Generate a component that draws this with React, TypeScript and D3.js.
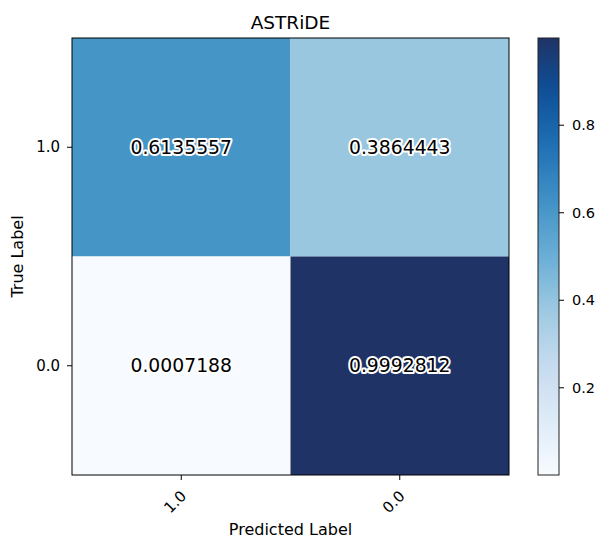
import React from "react";
import * as d3 from "d3";

const title = "ASTRiDE";
const predictedLabels = ["1.0", "0.0"];
const trueLabels = ["1.0", "0.0"];
// rows: true label, cols: predicted label
const row10 = [0.6135557, 0.3864443];
const row00 = [0.0007188, 0.9992812];
const matrixRows = [row10, row00];
const cbTicks = [0.2, 0.4, 0.6, 0.8];
const bluesStops = ["#f7fbff", "#deebf7", "#c6dbef", "#9ecae1", "#6baed6", "#4292c6", "#2171b5", "#0e509a", "#1f3367"];

const W = 599, H = 541;
const plot = { x0: 72, x1: 509, y0: 38, y1: 475 };
const cb = { x0: 538, x1: 559 };
const FONT = "DejaVu Sans, sans-serif";

export default function App() {
  const all = matrixRows.flat();
  const vmin = d3.min(all) as number;
  const vmax = d3.max(all) as number;
  const norm = d3.scaleLinear().domain([vmin, vmax]).range([0, 1]).clamp(true);
  const blues = d3
    .scaleLinear<string>()
    .domain(bluesStops.map((_, i) => i / (bluesStops.length - 1)))
    .range(bluesStops)
    .interpolate(d3.interpolateRgb);
  const color = (v: number) => blues(norm(v));

  const x = d3.scaleBand().domain(predictedLabels).range([plot.x0, plot.x1]);
  const y = d3.scaleBand().domain(trueLabels).range([plot.y0, plot.y1]);
  const cbY = d3.scaleLinear().domain([vmin, vmax]).range([plot.y1, plot.y0]);

  const gradStops = d3.range(0, 1.0001, 0.05);

  return (
    <svg width={W} height={H} style={{ position: "absolute", left: 0, top: 0, background: "#fff" }} fontFamily={FONT}>
      <defs>
        <linearGradient id="cbgrad" x1="0" y1="1" x2="0" y2="0">
          {gradStops.map((t) => (
            <stop key={t} offset={t} stopColor={blues(t)} />
          ))}
        </linearGradient>
      </defs>
      <text x={(plot.x0 + plot.x1) / 2} y={29} textAnchor="middle" fontSize={18.5} fill="#000">
        {title}
      </text>
      {matrixRows.map((row, ri) =>
        row.map((v, ci) => (
          <rect
            key={`${ri}-${ci}`}
            x={x(predictedLabels[ci])}
            y={y(trueLabels[ri])}
            width={x.bandwidth()}
            height={y.bandwidth()}
            fill={color(v)}
          />
        ))
      )}
      {matrixRows.map((row, ri) =>
        row.map((v, ci) => (
          <text
            key={`t${ri}-${ci}`}
            x={(x(predictedLabels[ci]) as number) + x.bandwidth() / 2}
            y={(y(trueLabels[ri]) as number) + y.bandwidth() / 2}
            textAnchor="middle"
            dominantBaseline="central"
            fontSize={18.8}
            fill="#000"
            stroke="#fff"
            strokeWidth={4}
            strokeLinejoin="round"
            paintOrder="stroke"
          >
            {v.toFixed(7)}
          </text>
        ))
      )}
      <rect x={plot.x0} y={plot.y0} width={plot.x1 - plot.x0} height={plot.y1 - plot.y0} fill="none" stroke="#000" strokeWidth={1} />
      {trueLabels.map((l) => {
        const cy = (y(l) as number) + y.bandwidth() / 2;
        return (
          <g key={`y${l}`}>
            <line x1={plot.x0 - 5} x2={plot.x0} y1={cy} y2={cy} stroke="#000" />
            <text x={plot.x0 - 12} y={cy} textAnchor="end" dominantBaseline="central" fontSize={15}>
              {l}
            </text>
          </g>
        );
      })}
      {predictedLabels.map((l) => {
        const cx = (x(l) as number) + x.bandwidth() / 2;
        return (
          <g key={`x${l}`}>
            <line x1={cx} x2={cx} y1={plot.y1} y2={plot.y1 + 5} stroke="#000" />
            <text
              transform={`translate(${cx - 6},${plot.y1 + 27}) rotate(-45)`}
              textAnchor="middle"
              dominantBaseline="central"
              fontSize={15}
            >
              {l}
            </text>
          </g>
        );
      })}
      <text x={(plot.x0 + plot.x1) / 2} y={535} textAnchor="middle" fontSize={16}>
        Predicted Label
      </text>
      <text transform={`translate(17,${(plot.y0 + plot.y1) / 2}) rotate(-90)`} textAnchor="middle" dominantBaseline="central" fontSize={16}>
        True Label
      </text>
      <rect x={cb.x0} y={plot.y0} width={cb.x1 - cb.x0} height={plot.y1 - plot.y0} fill="url(#cbgrad)" stroke="#222" strokeWidth={1} />
      {cbTicks.map((t) => (
        <g key={`cb${t}`}>
          <line x1={cb.x1} x2={cb.x1 + 5} y1={cbY(t)} y2={cbY(t)} stroke="#000" />
          <text x={cb.x1 + 13} y={cbY(t)} dominantBaseline="central" fontSize={14.5}>
            {t.toFixed(1)}
          </text>
        </g>
      ))}
    </svg>
  );
}
